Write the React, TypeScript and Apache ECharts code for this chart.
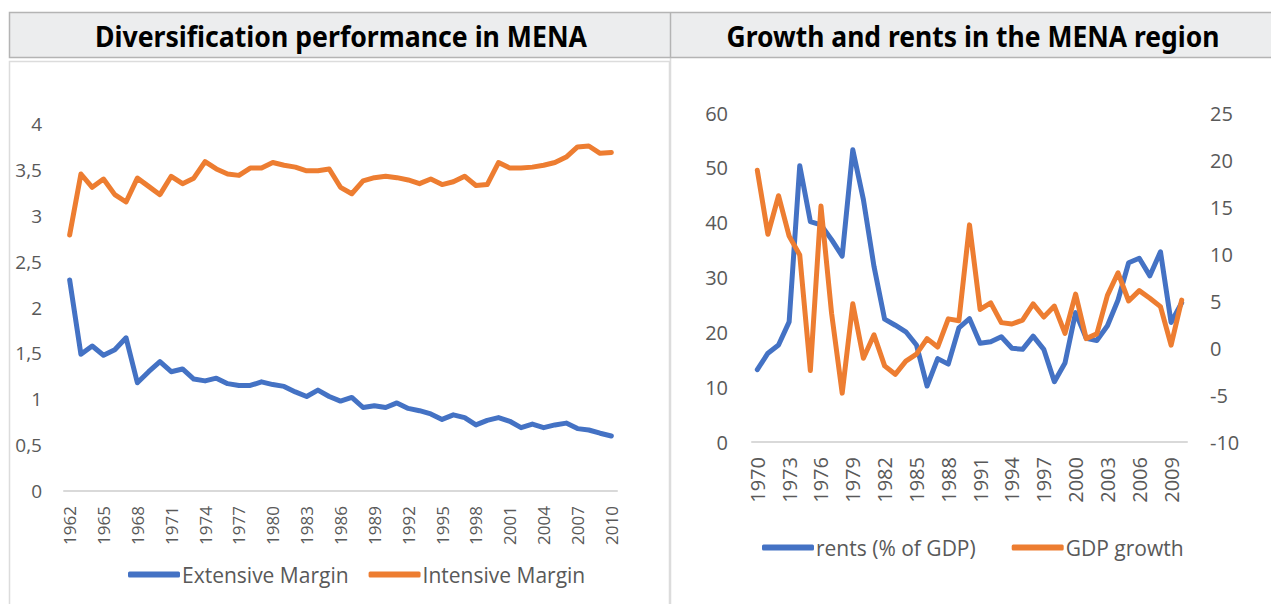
import React, { useEffect, useRef } from 'react';
import * as echarts from 'echarts';

const divYears = ['1962','1963','1964','1965','1966','1967','1968','1969','1970','1971','1972','1973','1974','1975','1976','1977','1978','1979','1980','1981','1982','1983','1984','1985','1986','1987','1988','1989','1990','1991','1992','1993','1994','1995','1996','1997','1998','1999','2000','2001','2002','2003','2004','2005','2006','2007','2008','2009','2010'];
const extensiveMargin = [2.30,1.49,1.58,1.48,1.54,1.67,1.18,1.30,1.41,1.30,1.33,1.22,1.20,1.23,1.17,1.15,1.15,1.19,1.16,1.14,1.08,1.03,1.10,1.03,0.98,1.02,0.91,0.93,0.91,0.96,0.90,0.875,0.84,0.78,0.83,0.80,0.72,0.77,0.80,0.76,0.69,0.73,0.69,0.72,0.74,0.68,0.665,0.63,0.60];
const intensiveMargin = [2.79,3.455,3.31,3.40,3.23,3.15,3.41,3.32,3.23,3.43,3.35,3.41,3.59,3.51,3.455,3.44,3.52,3.52,3.58,3.55,3.53,3.49,3.49,3.51,3.31,3.24,3.38,3.415,3.43,3.415,3.39,3.35,3.40,3.34,3.37,3.43,3.33,3.34,3.58,3.52,3.52,3.53,3.55,3.58,3.64,3.75,3.76,3.68,3.69];

const menaYears = ['1970','1971','1972','1973','1974','1975','1976','1977','1978','1979','1980','1981','1982','1983','1984','1985','1986','1987','1988','1989','1990','1991','1992','1993','1994','1995','1996','1997','1998','1999','2000','2001','2002','2003','2004','2005','2006','2007','2008','2009','2010'];
const rents = [13.2,16.2,17.7,21.9,50.4,40.2,39.6,36.9,33.9,53.3,44.2,32.0,22.4,21.3,20.1,17.7,10.2,15.2,14.2,20.8,22.5,18.0,18.3,19.2,17.1,16.9,19.3,16.9,11.0,14.4,23.6,18.9,18.5,21.2,25.9,32.7,33.5,30.3,34.7,21.8,25.4];
const gdpGrowth = [18.9,12.1,16.2,11.9,9.9,-2.4,15.1,3.7,-4.8,4.7,-1.1,1.4,-1.9,-2.8,-1.4,-0.65,1.0,0.1,3.1,2.9,13.1,4.1,4.8,2.7,2.55,2.97,4.7,3.3,4.46,1.55,5.74,1.0,1.5,5.6,8.0,5.0,6.1,5.3,4.4,0.3,5.1];

const panelTitles = ['Diversification performance in MENA', 'Growth and rents in the MENA region'];
const leftLegend = ['Extensive Margin', 'Intensive Margin'];
const rightLegend = ['rents (% of GDP)', 'GDP growth'];

const BLUE = '#4472c4';
const ORANGE = '#ed7d31';
const LABEL = '#595959';
const FONT = "'Open Sans', 'Noto Sans', sans-serif";
const TITLE_FONT = "bold 28px 'Noto Sans'";

function measure(text: string, font: string): number {
  const c = document.createElement('canvas');
  const ctx = c.getContext('2d');
  if (!ctx) return 1;
  ctx.font = font;
  return ctx.measureText(text).width || 1;
}

export default function App() {
  const ref = useRef<HTMLDivElement>(null);
  useEffect(() => {
    document.body.style.margin = '0';
    if (!ref.current) return;
    const chart = echarts.init(ref.current, undefined, { renderer: 'svg' });
    const t1w = measure(panelTitles[0], TITLE_FONT);
    const t2w = measure(panelTitles[1], TITLE_FONT);
    const commaFmt = (v: number) => String(v).replace('.', ',');
    const lineSeries = (name: string, data: number[], color: string, xi: number, yi: number) => ({
      name, type: 'line', data, xAxisIndex: xi, yAxisIndex: yi,
      showSymbol: false, symbol: 'none', smooth: false,
      lineStyle: { width: 5, color, cap: 'round', join: 'round' },
      itemStyle: { color },
    });
    const option: any = {
      animation: false,
      backgroundColor: '#ffffff',
      grid: [
        { left: 64, top: 124, width: 553, height: 367 },
        { left: 752, top: 113, width: 435, height: 329 },
      ],
      xAxis: [
        {
          type: 'category', gridIndex: 0, data: divYears, boundaryGap: true,
          axisLine: { lineStyle: { color: '#d9d9d9', width: 2 } },
          axisTick: { show: false },
          axisLabel: { interval: 2, rotate: 90, margin: 15, color: LABEL, fontSize: 17, fontFamily: FONT },
        },
        {
          type: 'category', gridIndex: 1, data: menaYears, boundaryGap: true,
          axisLine: { onZero: false, lineStyle: { color: '#d9d9d9', width: 2 } },
          axisTick: { show: false },
          axisLabel: { interval: 2, rotate: 90, margin: 15, color: LABEL, fontSize: 20, fontFamily: FONT },
        },
      ],
      yAxis: [
        {
          type: 'value', gridIndex: 0, min: 0, max: 4, interval: 0.5,
          splitLine: { show: false }, axisLine: { show: false }, axisTick: { show: false },
          axisLabel: { formatter: commaFmt, margin: 22, color: LABEL, fontSize: 19, fontFamily: FONT },
        },
        {
          type: 'value', gridIndex: 1, min: 0, max: 60, interval: 10,
          splitLine: { show: false }, axisLine: { show: false }, axisTick: { show: false },
          axisLabel: { margin: 24, color: LABEL, fontSize: 20, fontFamily: FONT },
        },
        {
          type: 'value', gridIndex: 1, position: 'right', min: -10, max: 25, interval: 5,
          splitLine: { show: false }, axisLine: { show: false }, axisTick: { show: false },
          axisLabel: { margin: 23, color: LABEL, fontSize: 20, fontFamily: FONT },
        },
      ],
      legend: [
        {
          data: leftLegend, left: 123, top: 559, icon: 'roundRect', itemWidth: 52, itemHeight: 6, itemGap: 20,
          textStyle: { color: LABEL, fontSize: 21, fontFamily: FONT, padding: [0, 0, 0, -3] },
        },
        {
          data: rightLegend, left: 757, top: 532, icon: 'roundRect', itemWidth: 52, itemHeight: 6, itemGap: 36,
          textStyle: { color: LABEL, fontSize: 21, fontFamily: FONT, padding: [0, 0, 0, -3] },
        },
      ],
      series: [
        lineSeries('Extensive Margin', extensiveMargin, BLUE, 0, 0),
        lineSeries('Intensive Margin', intensiveMargin, ORANGE, 0, 0),
        lineSeries('rents (% of GDP)', rents, BLUE, 1, 1),
        lineSeries('GDP growth', gdpGrowth, ORANGE, 1, 2),
      ],
      graphic: [
        { type: 'rect', shape: { x: 9.5, y: 61.5, width: 660, height: 560 }, style: { fill: 'none', stroke: '#dcdcdc', lineWidth: 1.5 }, z: -1 },
        { type: 'line', shape: { x1: 670.5, y1: 57, x2: 670.5, y2: 604 }, style: { stroke: '#dcdcdc', lineWidth: 1.5 }, z: -1 },
        { type: 'rect', shape: { x: 9.5, y: 12.5, width: 1270, height: 45 }, style: { fill: '#ecedee', stroke: '#b4b4b4', lineWidth: 1.5 } },
        { type: 'line', shape: { x1: 670.5, y1: 12.5, x2: 670.5, y2: 57.5 }, style: { stroke: '#b4b4b4', lineWidth: 1.5 } },
        {
          type: 'text', x: 341, y: 36, scaleX: 492 / t1w,
          style: { text: panelTitles[0], font: TITLE_FONT, fill: '#000000', textAlign: 'center', textVerticalAlign: 'middle' },
        },
        {
          type: 'text', x: 973, y: 36, scaleX: 493 / t2w,
          style: { text: panelTitles[1], font: TITLE_FONT, fill: '#000000', textAlign: 'center', textVerticalAlign: 'middle' },
        },
      ],
    };
    chart.setOption(option);
    return () => chart.dispose();
  }, []);
  return <div ref={ref} style={{ width: 1271, height: 604 }} />;
}
